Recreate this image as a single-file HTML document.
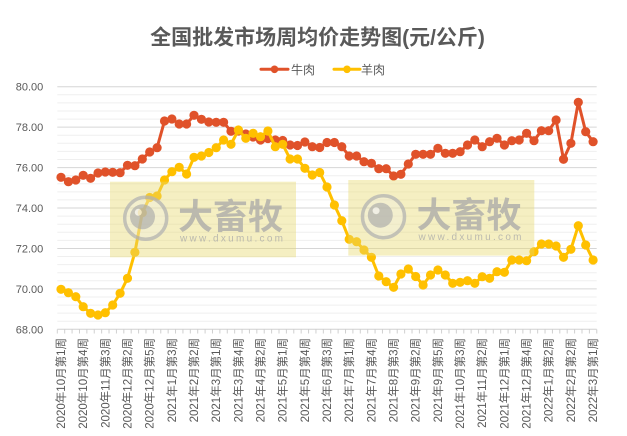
<!DOCTYPE html>
<html><head><meta charset="utf-8"><style>
html,body{margin:0;padding:0;background:#fff;}
svg{display:block;}
text{font-family:"Liberation Sans","Noto Sans CJK SC",sans-serif;}
</style></head><body>
<svg width="627" height="436" viewBox="0 0 627 436" xmlns="http://www.w3.org/2000/svg">
<defs>
<marker id="mr" viewBox="-5 -5 10 10" refX="0" refY="0" markerWidth="10" markerHeight="10" markerUnits="userSpaceOnUse"><circle r="4.6" fill="#e0522a"/></marker>
<marker id="my" viewBox="-5 -5 10 10" refX="0" refY="0" markerWidth="10" markerHeight="10" markerUnits="userSpaceOnUse"><circle r="4.6" fill="#ffc000"/></marker>
</defs>
<rect width="627" height="436" fill="#fff"/>
<text x="317.5" y="44.5" text-anchor="middle" font-size="21" font-weight="bold" fill="#595959">全国批发市场周均价走势图(元/公斤)</text>
<g>
<line x1="261" y1="69.3" x2="288" y2="69.3" stroke="#e0522a" stroke-width="3" stroke-linecap="round"/>
<circle cx="274.5" cy="69.3" r="3.8" fill="#e0522a"/>
<text x="291" y="74" font-size="12" fill="#595959">牛肉</text>
<line x1="334" y1="69.3" x2="360" y2="69.3" stroke="#ffc000" stroke-width="3" stroke-linecap="round"/>
<circle cx="347" cy="69.3" r="3.8" fill="#ffc000"/>
<text x="361" y="74" font-size="12" fill="#595959">羊肉</text>
</g>
<g stroke="#efefef" stroke-width="1">
<line x1="57.3" x2="596.7" y1="94.8" y2="94.8"/><line x1="57.3" x2="596.7" y1="102.9" y2="102.9"/><line x1="57.3" x2="596.7" y1="111.0" y2="111.0"/><line x1="57.3" x2="596.7" y1="119.1" y2="119.1"/>
<line x1="57.3" x2="596.7" y1="135.2" y2="135.2"/><line x1="57.3" x2="596.7" y1="143.3" y2="143.3"/><line x1="57.3" x2="596.7" y1="151.4" y2="151.4"/><line x1="57.3" x2="596.7" y1="159.5" y2="159.5"/>
<line x1="57.3" x2="596.7" y1="175.7" y2="175.7"/><line x1="57.3" x2="596.7" y1="183.8" y2="183.8"/><line x1="57.3" x2="596.7" y1="191.9" y2="191.9"/><line x1="57.3" x2="596.7" y1="199.9" y2="199.9"/>
<line x1="57.3" x2="596.7" y1="216.1" y2="216.1"/><line x1="57.3" x2="596.7" y1="224.2" y2="224.2"/><line x1="57.3" x2="596.7" y1="232.3" y2="232.3"/><line x1="57.3" x2="596.7" y1="240.4" y2="240.4"/>
<line x1="57.3" x2="596.7" y1="256.5" y2="256.5"/><line x1="57.3" x2="596.7" y1="264.6" y2="264.6"/><line x1="57.3" x2="596.7" y1="272.7" y2="272.7"/><line x1="57.3" x2="596.7" y1="280.8" y2="280.8"/>
<line x1="57.3" x2="596.7" y1="297.0" y2="297.0"/><line x1="57.3" x2="596.7" y1="305.1" y2="305.1"/><line x1="57.3" x2="596.7" y1="313.1" y2="313.1"/><line x1="57.3" x2="596.7" y1="321.2" y2="321.2"/>
</g>
<g stroke="#d6d6d6" stroke-width="1">
<line x1="57.3" x2="596.7" y1="86.7" y2="86.7"/><line x1="57.3" x2="596.7" y1="127.1" y2="127.1"/><line x1="57.3" x2="596.7" y1="167.6" y2="167.6"/><line x1="57.3" x2="596.7" y1="208.0" y2="208.0"/><line x1="57.3" x2="596.7" y1="248.5" y2="248.5"/><line x1="57.3" x2="596.7" y1="288.9" y2="288.9"/>
</g>
<line x1="57.3" x2="596.7" y1="329.3" y2="329.3" stroke="#d0d0d0" stroke-width="1"/>
<line x1="56.8" x2="597.5" y1="331.5" y2="331.5" stroke="#d0d0d0" stroke-width="4" stroke-dasharray="1 6.39"/>
<g font-size="11" fill="#595959" text-anchor="end">
<text x="43.3" y="90.7">80.00</text><text x="43.3" y="131.1">78.00</text><text x="43.3" y="171.6">76.00</text><text x="43.3" y="212.0">74.00</text><text x="43.3" y="252.5">72.00</text><text x="43.3" y="292.9">70.00</text><text x="43.3" y="333.3">68.00</text>
</g>
<polyline fill="none" stroke="#e0522a" stroke-width="3" stroke-linejoin="round" marker-start="url(#mr)" marker-mid="url(#mr)" marker-end="url(#mr)" points="61.0,177.3 68.4,181.7 75.8,180 83.2,175.3 90.6,178.3 98.0,173 105.3,172 112.7,172.3 120.1,172.7 127.5,165.3 134.9,165.7 142.3,159 149.7,152 157.1,147.7 164.5,121 171.9,119 179.2,124 186.6,124 194.0,115.3 201.4,119.3 208.8,122 216.2,122.3 223.6,122.3 231.0,131.3 238.4,131 245.8,134 253.1,137 260.5,140 267.9,138.5 275.3,140 282.7,140.5 290.1,145 297.5,145.5 304.9,142 312.3,146.7 319.7,147.5 327.0,142.5 334.4,142.5 341.8,146.7 349.2,156 356.6,156 364.0,161.7 371.4,163.3 378.8,168.7 386.2,168.7 393.6,176 400.9,174.3 408.3,164 415.7,154.3 423.1,154.3 430.5,154.3 437.9,148.3 445.3,153.3 452.7,153.3 460.1,151.7 467.5,145 474.8,140 482.2,146.7 489.6,141.7 497.0,138.3 504.4,145 511.8,140.7 519.2,140 526.6,133.3 534.0,140.7 541.4,130.7 548.7,130.7 556.1,120 563.5,159.3 570.9,143.3 578.3,102.3 585.7,131.7 593.1,141.7"/>
<polyline fill="none" stroke="#ffc000" stroke-width="3" stroke-linejoin="round" marker-start="url(#my)" marker-mid="url(#my)" marker-end="url(#my)" points="61.0,289.3 68.4,292.7 75.8,296.7 83.2,306.7 90.6,313.3 98.0,315 105.3,312.7 112.7,305 120.1,293.3 127.5,278.3 134.9,252.3 142.3,212.7 149.7,197.5 157.1,196 164.5,180 171.9,171.7 179.2,167.3 186.6,174 194.0,157.3 201.4,156 208.8,152.5 216.2,147.7 223.6,140 231.0,144.3 238.4,130 245.8,138.3 253.1,133.3 260.5,136.7 267.9,131 275.3,146.7 282.7,144.3 290.1,159 297.5,159 304.9,168.3 312.3,175 319.7,172.5 327.0,187 334.4,205 341.8,220.7 349.2,239.3 356.6,241.7 364.0,250 371.4,257.3 378.8,276 386.2,281.7 393.6,287.3 400.9,274 408.3,269 415.7,276.5 423.1,285 430.5,275 437.9,270 445.3,275 452.7,283.3 460.1,282.3 467.5,280.7 474.8,283.3 482.2,276.7 489.6,278.3 497.0,271.7 504.4,272.3 511.8,260 519.2,260 526.6,260.7 534.0,251.7 541.4,244 548.7,244 556.1,246 563.5,257.3 570.9,249.3 578.3,225.7 585.7,245 593.1,260"/>
<!-- watermarks -->
<g>
<rect x="110" y="181.7" width="186" height="75.6" fill="rgb(232,218,110)" opacity="0.42"/>
<g opacity="0.75">
<circle cx="145.7" cy="218.3" r="21" fill="#f2f2f2" fill-opacity="0.35" stroke="#b3b3b3" stroke-width="3.5"/>
<circle cx="142.5" cy="216.8" r="12.5" fill="#b3b3b3"/>
<circle cx="138.3" cy="212.3" r="3.5" fill="#f0f0f0"/>
<text x="178" y="229" font-size="35" font-weight="bold" fill="#a8a8a8" textLength="105" lengthAdjust="spacingAndGlyphs">大畜牧</text>
<text x="180" y="241.5" font-size="10" fill="#a8a8a8" textLength="103" lengthAdjust="spacing">www.dxumu.com</text>
</g>
</g>
<g>
<rect x="348.3" y="180" width="186" height="75.6" fill="rgb(232,218,110)" opacity="0.42"/>
<g opacity="0.75">
<circle cx="383.5" cy="216.7" r="21" fill="#f2f2f2" fill-opacity="0.35" stroke="#b3b3b3" stroke-width="3.5"/>
<circle cx="380.3" cy="215.2" r="12.5" fill="#b3b3b3"/>
<circle cx="376.1" cy="210.7" r="3.5" fill="#f0f0f0"/>
<text x="416.5" y="227.4" font-size="35" font-weight="bold" fill="#a8a8a8" textLength="105" lengthAdjust="spacingAndGlyphs">大畜牧</text>
<text x="418.5" y="240" font-size="10" fill="#a8a8a8" textLength="103" lengthAdjust="spacing">www.dxumu.com</text>
</g>
</g>
<g font-size="11.5" fill="#595959" text-anchor="end">
<text transform="translate(65.0,338) rotate(-90)">2020年10月第1周</text>
<text transform="translate(87.2,338) rotate(-90)">2020年10月第4周</text>
<text transform="translate(109.3,338) rotate(-90)">2020年11月第3周</text>
<text transform="translate(131.5,338) rotate(-90)">2020年12月第2周</text>
<text transform="translate(153.7,338) rotate(-90)">2020年12月第5周</text>
<text transform="translate(175.9,338) rotate(-90)">2021年1月第3周</text>
<text transform="translate(198.0,338) rotate(-90)">2021年2月第2周</text>
<text transform="translate(220.2,338) rotate(-90)">2021年3月第1周</text>
<text transform="translate(242.4,338) rotate(-90)">2021年3月第4周</text>
<text transform="translate(264.5,338) rotate(-90)">2021年4月第2周</text>
<text transform="translate(286.7,338) rotate(-90)">2021年5月第1周</text>
<text transform="translate(308.9,338) rotate(-90)">2021年5月第4周</text>
<text transform="translate(331.0,338) rotate(-90)">2021年6月第3周</text>
<text transform="translate(353.2,338) rotate(-90)">2021年7月第1周</text>
<text transform="translate(375.4,338) rotate(-90)">2021年7月第4周</text>
<text transform="translate(397.6,338) rotate(-90)">2021年8月第3周</text>
<text transform="translate(419.7,338) rotate(-90)">2021年9月第2周</text>
<text transform="translate(441.9,338) rotate(-90)">2021年9月第5周</text>
<text transform="translate(464.1,338) rotate(-90)">2021年10月第3周</text>
<text transform="translate(486.2,338) rotate(-90)">2021年11月第2周</text>
<text transform="translate(508.4,338) rotate(-90)">2021年12月第1周</text>
<text transform="translate(530.6,338) rotate(-90)">2021年12月第4周</text>
<text transform="translate(552.7,338) rotate(-90)">2022年1月第2周</text>
<text transform="translate(574.9,338) rotate(-90)">2022年2月第2周</text>
<text transform="translate(597.1,338) rotate(-90)">2022年3月第1周</text>
</g>
</svg>
</body></html>
